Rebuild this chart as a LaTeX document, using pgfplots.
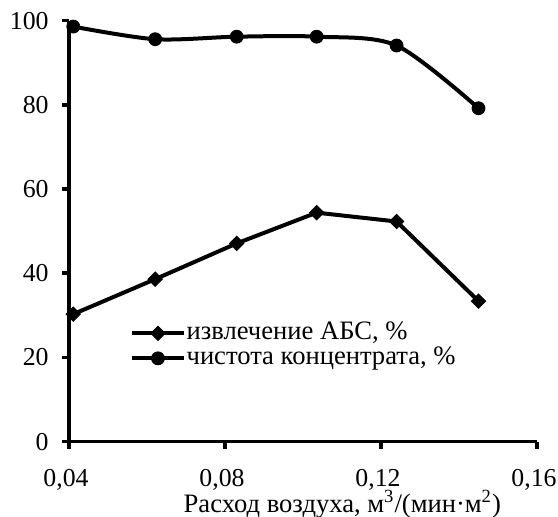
\documentclass[border=0pt]{standalone}
\usepackage{fontspec}
\setmainfont{Liberation Serif}
\usepackage{pgfplots}
\pgfplotsset{compat=1.18}
\begin{document}
\fontsize{13.3}{16}\selectfont
\begin{tikzpicture}
\useasboundingbox (-34.5pt,-37.65pt) rectangle (244.5pt,220.85pt);
\begin{axis}[
  scale only axis,
  width=234pt, height=210.5pt,
  anchor=south west, at={(0,0)},
  xmin=0.04, xmax=0.16, ymin=0, ymax=100,
  axis lines*=left,
  axis line style={line width=1.8pt},
  every tick/.style={black, line width=1.8pt},
  tick align=outside,
  major tick length=3.5pt,
  xtick={0.04,0.08,0.12,0.16},
  xticklabels={{0,04},{0,08},{0,12},{0,16}},
  ytick={0,20,40,60,80,100},
  /pgf/number format/assume math mode=true,
  tick label style={font=\fontsize{12.9}{15.5}\selectfont},
  yticklabel style={inner sep=6.5pt},
  xticklabel style={anchor=base, inner sep=0pt, yshift=-19pt, xshift=-1.5pt, text depth=0pt},
  xlabel={Расход воздуха, м\textsuperscript{3}/(мин·м\textsuperscript{2})},
  xlabel style={at={(axis description cs:0.584,0)}, anchor=base, yshift=-35.5pt, inner sep=0pt},
  legend style={at={(0.129,0.288)}, anchor=north west, draw=none, fill=none, inner sep=0pt,
    row sep=0pt, font=\fontsize{13.3}{16}\selectfont,
    nodes={inner sep=0.25pt, text height=9pt, text depth=3pt, anchor=west}},
  legend cell align=left,
  legend image code/.code={\draw[#1,mark repeat=2,mark phase=2] plot coordinates {(0cm,0cm) (0.46cm,0cm) (0.92cm,0cm)};},
  clip=false,
]
\addplot[black, line width=2pt, mark=square*, mark size=2.5pt, mark options={fill=black, line width=0.5pt, rotate=45}]
  coordinates {(0.0411,30.3) (0.0621,38.6) (0.0830,47.1) (0.1035,54.4) (0.1240,52.3) (0.1450,33.4)};
\addlegendentry{извлечение АБС, \%}
\addplot[black, line width=2pt, smooth, mark=*, mark size=3.2pt, mark options={fill=black, line width=0.5pt}]
  coordinates {(0.0411,98.6) (0.0621,95.6) (0.0830,96.2) (0.1035,96.2) (0.1240,94.1) (0.1450,79.2)};
\addlegendentry{чистота концентрата, \%}
\end{axis}
\end{tikzpicture}
\end{document}
